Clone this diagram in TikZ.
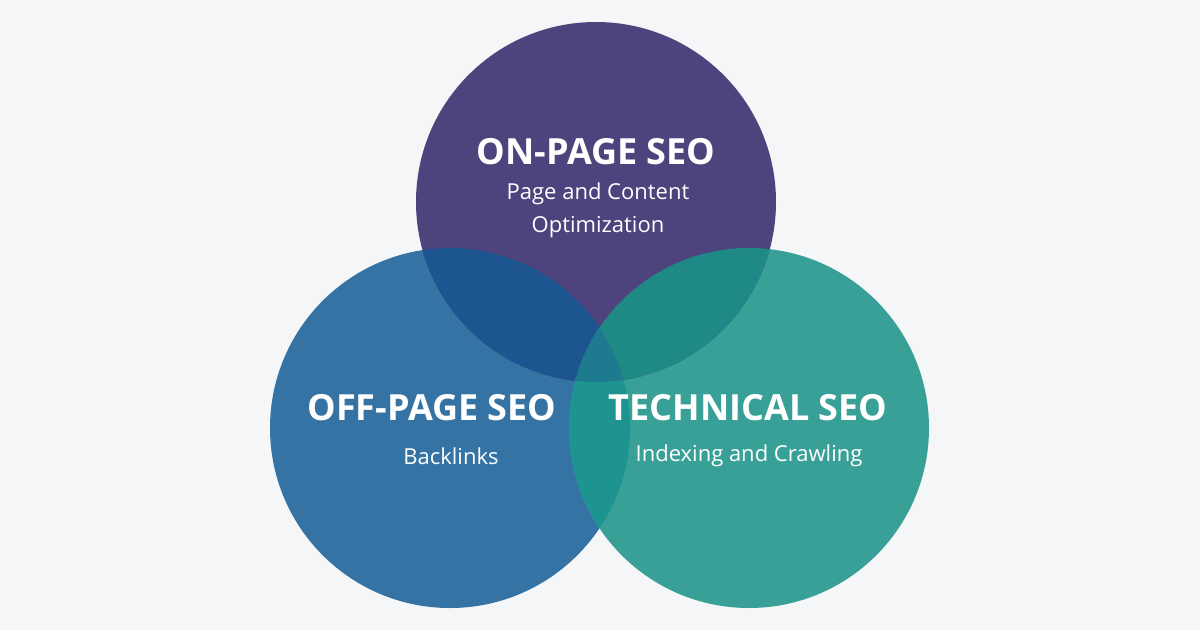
\documentclass[tikz,border=0pt]{standalone}
\usepackage{fontspec}
\setmainfont{Open Sans}
\definecolor{bg}{HTML}{F4F6F8}
\definecolor{cT}{HTML}{4E437C}
\definecolor{cL}{HTML}{3473A3}
\definecolor{cR}{HTML}{38A096}
\definecolor{cTL}{HTML}{1C5590}
\definecolor{cTR}{HTML}{1F8985}
\definecolor{cLR}{HTML}{1E9490}
\definecolor{cAll}{HTML}{1E7A8E}
\tikzset{title/.style={text=white,font=\fontsize{36}{40}\selectfont\bfseries},
sub/.style={text=white,font=\fontsize{22}{33}\selectfont,align=center}}
\begin{document}
\begin{tikzpicture}[x=1pt,y=-1pt]
\fill[bg] (0,0) rectangle (1200,630);
\useasboundingbox (0,0) rectangle (1200,630);
\def\T{(596,202) circle (180)}
\def\L{(450,428) circle (180)}
\def\R{(749,428) circle (180)}
\fill[cL] \L; \fill[cR] \R; \fill[cT] \T;
\begin{scope}\clip \T; \fill[cTL] \L; \end{scope}
\begin{scope}\clip \T; \fill[cTR] \R; \end{scope}
\begin{scope}\clip \L; \fill[cLR] \R; \end{scope}
\begin{scope}\clip \T; \clip \L; \fill[cAll] \R; \end{scope}
\node[title] (t1) at (596,152) {ON-PAGE SEO};
\node[sub] (s1) at (598,210) {Page and Content\\Optimization};
\node[title] (t2) at (432,408) {OFF-PAGE SEO};
\node[sub] (s2) at (451,456) {Backlinks};
\node[title] (t3) at (748,408) {TECHNICAL SEO};
\node[sub] (s3) at (749,456) {Indexing and Crawling};
\end{tikzpicture}
\end{document}
